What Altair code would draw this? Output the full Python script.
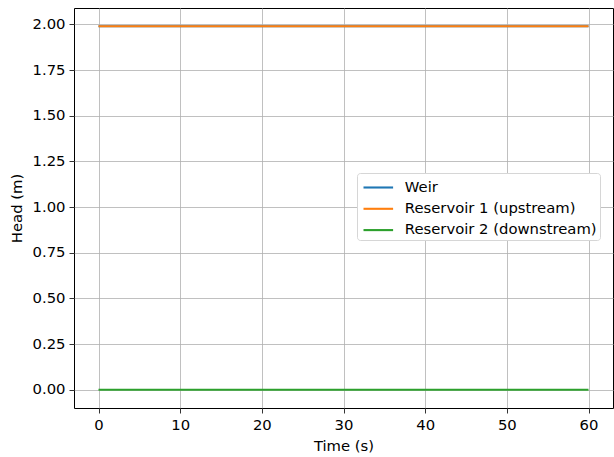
import altair as alt
import pandas as pd

time_s = [0, 10, 20, 30, 40, 50, 60]
weir = [1.99, 1.99, 1.99, 1.99, 1.99, 1.99, 1.99]
reservoir1 = [1.99, 1.99, 1.99, 1.99, 1.99, 1.99, 1.99]
reservoir2 = [0.0, 0.0, 0.0, 0.0, 0.0, 0.0, 0.0]
series_names = ["Weir", "Reservoir 1 (upstream)", "Reservoir 2 (downstream)"]
series_colors = ["#1f77b4", "#ff7f0e", "#2ca02c"]

rows = []
for name, vals in zip(series_names, [weir, reservoir1, reservoir2]):
    for t, v in zip(time_s, vals):
        rows.append({"Time": t, "Head": v, "Series": name, "order": series_names.index(name)})
df = pd.DataFrame(rows)

FONT = "DejaVu Sans"
FS = 14.8

chart = alt.Chart(df).mark_line(strokeWidth=2.1, clip=True).encode(
    x=alt.X("Time:Q", title="Time (s)",
            scale=alt.Scale(domain=[-3, 63], nice=False, zero=False),
            axis=alt.Axis(values=[0, 10, 20, 30, 40, 50, 60], format="d")),
    y=alt.Y("Head:Q", title="Head (m)",
            scale=alt.Scale(domain=[-0.0995, 2.0895], nice=False, zero=False),
            axis=alt.Axis(values=[0, 0.25, 0.5, 0.75, 1.0, 1.25, 1.5, 1.75, 2.0], format=".2f")),
    color=alt.Color("Series:N",
                    scale=alt.Scale(domain=series_names, range=series_colors),
                    legend=alt.Legend(title=None, orient="none", legendX=283, legendY=165,
                                      symbolType="M-1.48,0H1.48", symbolSize=400,
                                      symbolStrokeWidth=2.1, symbolOffset=6.8,
                                      labelFontSize=FS, labelFont=FONT, labelColor="#000000",
                                      rowPadding=2.3, padding=3, fillColor="white",
                                      strokeColor="#d6d6d6", cornerRadius=3,
                                      labelOffset=15, labelLimit=300)),
    detail="Series:N",
    order="order:Q",
).properties(
    width=539, height=400,
    padding={"left": 74, "top": 8, "right": 1, "bottom": 49},
    autosize=alt.AutoSizeParams(type="none"),
).configure(
    background="white"
).configure_view(
    stroke="#000000", strokeWidth=1.0
).configure_axis(
    grid=True, gridColor="#b0b0b0", gridWidth=0.8, gridOpacity=1,
    domain=False, tickColor="#000000", tickSize=5, tickWidth=0.8,
    labelFont=FONT, labelFontSize=FS, labelColor="#000000", labelPadding=4,
    titleFont=FONT, titleFontSize=FS, titleColor="#000000", titleFontWeight="normal",
).configure_axisX(
    titlePadding=7
).configure_axisY(
    titlePadding=8
)

chart.save("out.html", embed_options={"renderer": "svg", "actions": False})
